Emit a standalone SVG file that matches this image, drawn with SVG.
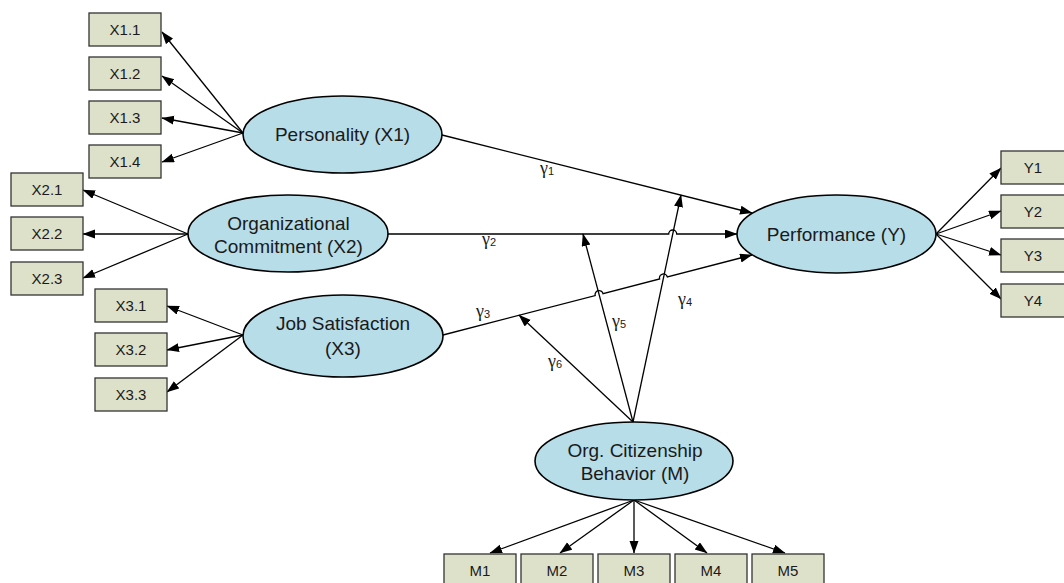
<svg xmlns="http://www.w3.org/2000/svg" width="1064" height="583" viewBox="0 0 1064 583">
  <defs>
    <marker id="arrow" markerUnits="userSpaceOnUse" markerWidth="13" markerHeight="10" refX="12" refY="4.5" orient="auto">
      <path d="M0,0 L12.5,4.5 L0,9 z" fill="#000"/>
    </marker>
    <style>
      .ind rect { fill: #dee1ca; stroke: #333; stroke-width: 1.3; }
      .ind text { font-family: "Liberation Sans", Arial, sans-serif; font-size: 15px; fill: #1a1a1a; text-anchor: middle; }
      .lat ellipse { fill: #b7dde8; stroke: #000; stroke-width: 1.6; }
      .lat text { font-family: "Liberation Sans", Arial, sans-serif; font-size: 19px; fill: #1a1a1a; text-anchor: middle; }
      .edge { fill: none; stroke: #000; stroke-width: 1.3; marker-end: url(#arrow); }
      .gamma { font-family: "Liberation Serif", "Times New Roman", serif; font-size: 18px; fill: #1a1a1a; }
      .gamma tspan { font-family: "Liberation Sans", Arial, sans-serif; font-size: 11px; }
    </style>
  </defs>
  <rect width="1064" height="583" fill="#fff"/>

  <!-- connectors -->
  <g id="connectors">
    <!-- Personality indicators -->
    <path class="edge" d="M243,133 L162,32"/>
    <path class="edge" d="M243,133 L162,76"/>
    <path class="edge" d="M243,133 L162,118"/>
    <path class="edge" d="M243,133 L162,162"/>
    <!-- Organizational Commitment indicators -->
    <path class="edge" d="M188,234 L83,190"/>
    <path class="edge" d="M188,234 L83,234"/>
    <path class="edge" d="M188,234 L83,278"/>
    <!-- Job Satisfaction indicators -->
    <path class="edge" d="M243,335 L167,306"/>
    <path class="edge" d="M243,335 L167,350"/>
    <path class="edge" d="M243,335 L167,392"/>
    <!-- Performance indicators -->
    <path class="edge" d="M936,234 L1001,168"/>
    <path class="edge" d="M936,234 L1001,211"/>
    <path class="edge" d="M936,234 L1001,255"/>
    <path class="edge" d="M936,234 L1001,299"/>
    <!-- OCB indicators -->
    <path class="edge" d="M634,500 L490,553"/>
    <path class="edge" d="M634,500 L560,553"/>
    <path class="edge" d="M634,500 L634,553"/>
    <path class="edge" d="M634,500 L707,553"/>
    <path class="edge" d="M634,500 L785,553"/>

    <!-- structural paths -->
    <path class="edge" d="M442,135 L752,213"/>
    <path class="edge" d="M388,234 H668.7 A4,4 0 0 1 676.7,234 H737"/>
    <path class="edge" d="M443,335 L595.2,295.6 A4,4 0 0 1 603,293.6 L659.6,279 A4,4 0 0 1 667.4,277 L752,255"/>
    <!-- moderating paths from OCB -->
    <path class="edge" d="M633,422 L681,195"/>
    <path class="edge" d="M633,422 L583,234"/>
    <path class="edge" d="M633,422 L519,315"/>
  </g>

  <!-- path coefficients -->
  <g id="coefficients">
    <text class="gamma" x="540" y="174">γ<tspan dy="1">1</tspan></text>
    <text class="gamma" x="482" y="245">γ<tspan dy="1">2</tspan></text>
    <text class="gamma" x="476" y="317">γ<tspan dy="1">3</tspan></text>
    <text class="gamma" x="678" y="305">γ<tspan dy="1">4</tspan></text>
    <text class="gamma" x="612" y="327">γ<tspan dy="1">5</tspan></text>
    <text class="gamma" x="548" y="367">γ<tspan dy="1">6</tspan></text>
  </g>

  <!-- latent constructs -->
  <g id="personality" class="lat">
    <ellipse cx="342.5" cy="134.5" rx="99.5" ry="38.5"/>
    <text x="342.5" y="141">Personality (X1)</text>
  </g>
  <g id="commitment" class="lat">
    <ellipse cx="288" cy="233.5" rx="100" ry="38.5"/>
    <text x="288.5" y="230">Organizational</text>
    <text x="288.5" y="253">Commitment (X2)</text>
  </g>
  <g id="satisfaction" class="lat">
    <ellipse cx="343" cy="336" rx="100" ry="41"/>
    <text x="343" y="330">Job Satisfaction</text>
    <text x="343" y="355">(X3)</text>
  </g>
  <g id="performance" class="lat">
    <ellipse cx="836.5" cy="234" rx="99.5" ry="39"/>
    <text x="836.5" y="240.5">Performance (Y)</text>
  </g>
  <g id="ocb" class="lat">
    <ellipse cx="634" cy="461" rx="99" ry="39"/>
    <text x="635" y="457">Org. Citizenship</text>
    <text x="635" y="480">Behavior (M)</text>
  </g>

  <!-- indicators -->
  <g id="x1-1" class="ind"><rect x="89" y="13" width="72" height="33"/><text x="125" y="35">X1.1</text></g>
  <g id="x1-2" class="ind"><rect x="89" y="57" width="72" height="33"/><text x="125" y="79">X1.2</text></g>
  <g id="x1-3" class="ind"><rect x="89" y="101" width="72" height="33"/><text x="125" y="123">X1.3</text></g>
  <g id="x1-4" class="ind"><rect x="89" y="145" width="72" height="33"/><text x="125" y="167">X1.4</text></g>

  <g id="x2-1" class="ind"><rect x="11" y="173" width="72" height="33"/><text x="47" y="195">X2.1</text></g>
  <g id="x2-2" class="ind"><rect x="11" y="217" width="72" height="33"/><text x="47" y="239">X2.2</text></g>
  <g id="x2-3" class="ind"><rect x="11" y="262" width="72" height="33"/><text x="47" y="284">X2.3</text></g>

  <g id="x3-1" class="ind"><rect x="95" y="289" width="72" height="33"/><text x="131" y="311">X3.1</text></g>
  <g id="x3-2" class="ind"><rect x="95" y="333" width="72" height="33"/><text x="131" y="355">X3.2</text></g>
  <g id="x3-3" class="ind"><rect x="95" y="378" width="72" height="33"/><text x="131" y="400">X3.3</text></g>

  <g id="y1" class="ind"><rect x="1001" y="151" width="72" height="33"/><text x="1033" y="173">Y1</text></g>
  <g id="y2" class="ind"><rect x="1001" y="195" width="72" height="33"/><text x="1033" y="217">Y2</text></g>
  <g id="y3" class="ind"><rect x="1001" y="239" width="72" height="33"/><text x="1033" y="261">Y3</text></g>
  <g id="y4" class="ind"><rect x="1001" y="284" width="72" height="33"/><text x="1033" y="306">Y4</text></g>

  <g id="m1" class="ind"><rect x="444" y="554" width="72" height="33"/><text x="480" y="576">M1</text></g>
  <g id="m2" class="ind"><rect x="521" y="554" width="72" height="33"/><text x="557" y="576">M2</text></g>
  <g id="m3" class="ind"><rect x="598" y="554" width="72" height="33"/><text x="634" y="576">M3</text></g>
  <g id="m4" class="ind"><rect x="675" y="554" width="72" height="33"/><text x="711" y="576">M4</text></g>
  <g id="m5" class="ind"><rect x="752" y="554" width="72" height="33"/><text x="788" y="576">M5</text></g>
</svg>
